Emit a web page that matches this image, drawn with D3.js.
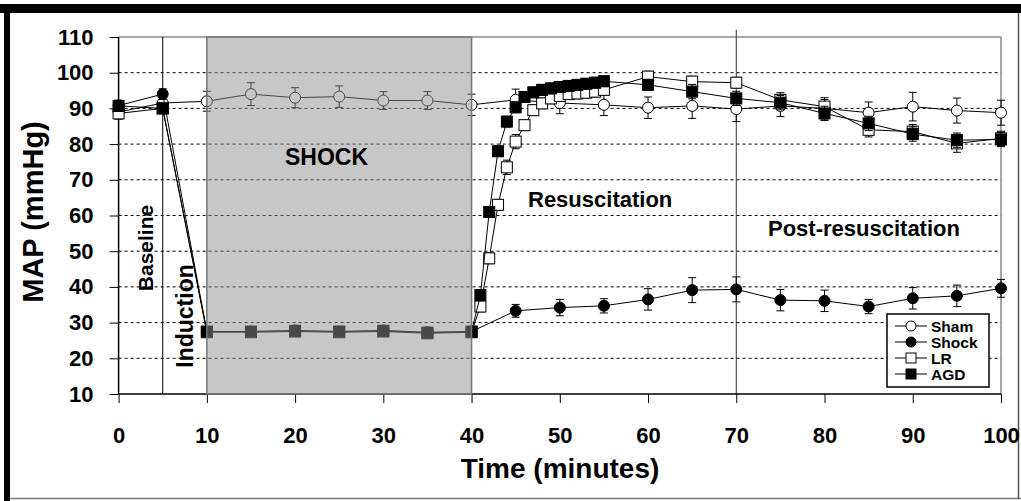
<!DOCTYPE html>
<meta charset="utf-8">
<style>
body { margin: 0; background: #fff; }
svg { font-family: "Liberation Sans", Arial, sans-serif; font-weight: bold; }
</style>
<body>
<script src="https://d3js.org/d3.v7.min.js"></script>
<script>

// time points (minutes)
var shamTime = [0, 5, 10, 15, 20, 25, 30, 35, 40, 45, 50, 55, 60, 65, 70, 75, 80, 85, 90, 95, 100];
var shockTime = shamTime;
var fluidTime = [0, 5, 10, 15, 20, 25, 30, 35, 40, 41, 42, 43, 44, 45, 46, 47, 48, 49, 50,
                 51, 52, 53, 54, 55, 60, 65, 70, 75, 80, 85, 90, 95, 100];

// MAP values (mmHg) and standard errors
var shamMAP = [89, 91.5, 92, 94, 93, 93.3, 92.2, 92.2, 91, 92.4, 91.5, 91, 90.2, 90.7, 89.8, 90.7, 90, 88.8, 90.5, 89.4, 88.8];
var shamSE  = [2, 1.5, 2.8, 3.2, 2.8, 3, 2.5, 2.5, 3, 3, 3, 3, 3, 3.5, 3.5, 3, 3, 3, 4, 3.5, 3.5];

var shockMAP = [90.8, 94, 27.5, 27.5, 27.8, 27.5, 27.8, 27.3, 27.5, 33.3, 34.2, 34.7, 36.5, 39.1, 39.3, 36.3, 36.1, 34.5, 36.8, 37.5, 39.6];
var shockSE  = [1.5, 1.5, 1, 1, 1, 1, 1, 1, 1, 1.8, 2.3, 2, 3, 3.5, 3.5, 3, 3, 2, 3, 3, 2.5];

var lrMAP = [88.6, 90, 27.3, 27.3, 27.5, 27.3, 27.5, 27, 27.3, 34.5, 48, 63, 73.5, 80.7, 85.3, 89.5, 91.4,
             92.8, 93.5, 94, 94.2, 94.4, 94.7, 95.2, 98.9, 97.5, 97.2, 92.4, 90.5, 84, 83.5, 80.2, 81.6];
var lrSE  = [1.5, 1, 1, 1, 1, 1, 1, 1, 1, 1.5, 1.5, 1.5, 2, 2, 1.5, 1.5, 1.5,
             1.5, 1.5, 1.5, 1.5, 1.5, 1.5, 1.5, 1.5, 1.5, 1.5, 2, 2, 2, 2, 2.5, 2];

var agdMAP = [90.7, 90, 27.5, 27.5, 27.7, 27.5, 27.7, 27.2, 27.5, 37.7, 61, 78, 86.3, 90.3, 93.2, 94.5, 95.2,
              95.6, 96, 96.3, 96.6, 96.9, 97.2, 97.6, 96.6, 94.7, 92.8, 91.6, 88.6, 85.8, 82.8, 81.1, 81.3];
var agdSE  = [1.5, 1, 1, 1, 1, 1, 1, 1, 1, 1.5, 1.5, 1.5, 1.5, 1.5, 1.5, 1.5, 1.5,
              1.5, 1.5, 1.5, 1.5, 1.5, 1.5, 1.5, 1.5, 2, 2, 2, 2, 2, 2, 2, 2];

var legendNames = ["Sham", "Shock", "LR", "AGD"];
var yTicks = [10, 20, 30, 40, 50, 60, 70, 80, 90, 100, 110];
var xTicks = [0, 10, 20, 30, 40, 50, 60, 70, 80, 90, 100];
var gridValues = [20, 30, 40, 50, 60, 70, 80, 90, 100];

var svg = d3.select("body").append("svg")
            .attr("width", 1021)
            .attr("height", 501);

svg.append("rect").attr("width", 1021).attr("height", 501).attr("fill", "#fff");

var x = d3.scaleLinear().domain([0, 100]).range([118.6, 1001]);
var y = d3.scaleLinear().domain([10, 110]).range([394, 37]);

// outer frame
svg.append("rect").attr("x", 0).attr("y", 4).attr("width", 1021).attr("height", 9).attr("fill", "#000");
svg.append("rect").attr("x", 4).attr("y", 4).attr("width", 6).attr("height", 497).attr("fill", "#000");
svg.append("line").attr("x1", 10).attr("x2", 1021).attr("y1", 498.5).attr("y2", 498.5)
   .attr("stroke", "#777").attr("stroke-width", 1.5);
svg.append("line").attr("x1", 1018.5).attr("x2", 1018.5).attr("y1", 13).attr("y2", 499)
   .attr("stroke", "#555").attr("stroke-width", 1.5);

// gridlines
svg.selectAll(".grid")
   .data(gridValues)
   .enter().append("line")
     .attr("x1", x(0)).attr("x2", x(100))
     .attr("y1", function(d) { return y(d); })
     .attr("y2", function(d) { return y(d); })
     .attr("stroke", "#000")
     .attr("stroke-dasharray", "3,3");

// plot border (top, right)
svg.append("line").attr("x1", x(0)).attr("x2", x(100)).attr("y1", y(110)).attr("y2", y(110))
   .attr("stroke", "#888").attr("stroke-width", 1.5);
svg.append("line").attr("x1", x(100)).attr("x2", x(100)).attr("y1", y(110)).attr("y2", y(10))
   .attr("stroke", "#888").attr("stroke-width", 1.5);

// phase separators
svg.append("line").attr("x1", x(5)).attr("x2", x(5)).attr("y1", y(110)).attr("y2", y(10))
   .attr("stroke", "#000").attr("stroke-width", 1);
svg.append("line").attr("x1", x(70)).attr("x2", x(70)).attr("y1", 30).attr("y2", y(10))
   .attr("stroke", "#333").attr("stroke-width", 1);

// axes
var yAxis = d3.axisLeft(y).tickValues(yTicks).tickSize(9).tickPadding(16);
var xAxis = d3.axisBottom(x).tickValues(xTicks).tickSize(9).tickPadding(24);

var gy = svg.append("g").attr("transform", "translate(" + x(0) + ",0)").call(yAxis);
var gx = svg.append("g").attr("transform", "translate(0," + y(10) + ")").call(xAxis);
[gx, gy].forEach(function(g) {
  g.select(".domain").attr("stroke", "#000").attr("stroke-width", 1.5);
  g.selectAll(".tick line").attr("stroke", "#000").attr("stroke-width", 1);
  g.selectAll(".tick text")
   .attr("fill", "#000")
   .style("font-family", "Liberation Sans, Arial, sans-serif")
   .style("font-weight", "bold")
   .style("font-size", "22px");
});
gy.select(".domain").attr("d", "M0," + y(110) + "V" + y(10));
gx.select(".domain").attr("d", "M" + x(0) + ",0H" + x(100));

var line = d3.line()
  .x(function(d) { return x(d.t); })
  .y(function(d) { return y(d.v); });

function pack(times, vals, se) {
  return times.map(function(t, i) { return {t: t, v: vals[i], se: se[i]}; });
}

function drawSeries(data, shape, fill) {
  var g = svg.append("g");
  g.append("path").datum(data)
    .attr("d", line).attr("fill", "none").attr("stroke", "#000").attr("stroke-width", 1);

  var eb = g.selectAll(".eb").data(data).enter().append("g");
  eb.append("line")
    .attr("x1", function(d) { return x(d.t); }).attr("x2", function(d) { return x(d.t); })
    .attr("y1", function(d) { return y(d.v - d.se); }).attr("y2", function(d) { return y(d.v + d.se); })
    .attr("stroke", "#000");
  [-1, 1].forEach(function(s) {
    eb.append("line")
      .attr("x1", function(d) { return x(d.t) - 4; }).attr("x2", function(d) { return x(d.t) + 4; })
      .attr("y1", function(d) { return y(d.v + s * d.se); }).attr("y2", function(d) { return y(d.v + s * d.se); })
      .attr("stroke", "#000");
  });

  if (shape === "circle") {
    g.selectAll(".m").data(data).enter().append("circle")
      .attr("cx", function(d) { return x(d.t); })
      .attr("cy", function(d) { return y(d.v); })
      .attr("r", 5.5)
      .attr("fill", fill).attr("stroke", "#000").attr("stroke-width", 1);
  } else {
    g.selectAll(".m").data(data).enter().append("rect")
      .attr("x", function(d) { return x(d.t) - 5.5; })
      .attr("y", function(d) { return y(d.v) - 5.5; })
      .attr("width", 11).attr("height", 11)
      .attr("fill", fill).attr("stroke", "#000").attr("stroke-width", 1);
  }
}

drawSeries(pack(shamTime, shamMAP, shamSE), "circle", "#fff");
drawSeries(pack(shockTime, shockMAP, shockSE), "circle", "#000");
drawSeries(pack(fluidTime, lrMAP, lrSE), "square", "#fff");
drawSeries(pack(fluidTime, agdMAP, agdSE), "square", "#000");

// shock period shading (semi-transparent, over the data)
svg.append("rect")
   .attr("x", x(10)).attr("y", y(110))
   .attr("width", x(40) - x(10)).attr("height", y(10) - y(110))
   .attr("fill", "#909090").attr("fill-opacity", 0.5)
   .attr("stroke", "#777").attr("stroke-width", 1.5);

// annotations
function label(txt, px, py, size, rot) {
  var t = svg.append("text").attr("font-size", size).attr("fill", "#000").text(txt);
  if (rot) {
    t.attr("transform", "translate(" + px + "," + py + ") rotate(-90)").attr("text-anchor", "middle");
  } else {
    t.attr("x", px).attr("y", py);
  }
  return t;
}
label("SHOCK", 285, 165, 23);
label("Resuscitation", 528, 207, 22);
label("Post-resuscitation", 768, 236, 22);
label("Baseline", 153, 248, 21, true);
label("Induction", 193, 316, 23, true);
label("MAP (mmHg)", 43, 212, 29, true);
label("Time (minutes)", 560, 478, 28).attr("text-anchor", "middle");

// legend
var lg = svg.append("g");
lg.append("rect").attr("x", 887).attr("y", 314).attr("width", 102).attr("height", 73)
  .attr("fill", "#fff").attr("stroke", "#000").attr("stroke-width", 1.5);
var items = lg.selectAll(".item").data(legendNames).enter().append("g")
  .attr("transform", function(d, i) { return "translate(0," + (326 + i * 16) + ")"; });
items.append("line").attr("x1", 895).attr("x2", 927).attr("stroke", "#000");
items.each(function(d, i) {
  var it = d3.select(this);
  var fill = (i % 2 === 0) ? "#fff" : "#000";
  if (i < 2) {
    it.append("circle").attr("cx", 911).attr("cy", 0).attr("r", 5).attr("fill", fill).attr("stroke", "#000");
  } else {
    it.append("rect").attr("x", 906).attr("y", -5).attr("width", 10).attr("height", 10).attr("fill", fill).attr("stroke", "#000");
  }
});
items.append("text").attr("x", 931).attr("y", 5.5).attr("font-size", 15.5).text(function(d) { return d; });

</script>
